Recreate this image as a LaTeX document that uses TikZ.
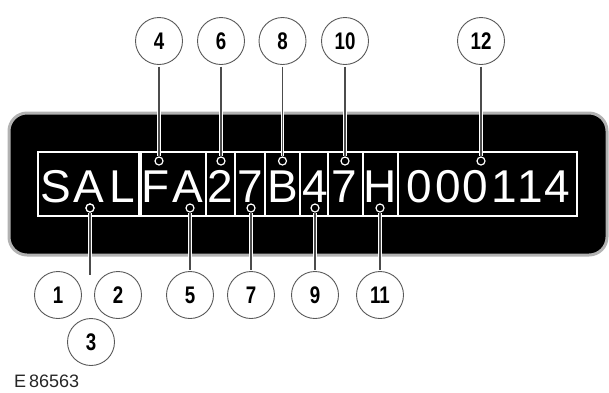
\documentclass[tikz,border=0pt]{standalone}
\usepackage{fontspec}
\setmainfont{Liberation Sans}
\begin{document}
\begin{tikzpicture}[x=1pt,y=-1pt,
  callout/.style={circle,draw=gray!70!black,line width=0.9pt,fill=white,minimum size=47pt,inner sep=0pt,outer sep=2pt,
    font=\fontsize{24}{24}\selectfont\bfseries},
  leader/.style={draw=white,double=gray!60!black,double distance=1.1pt,line width=1.1pt},
  dotmark/.style={circle,draw=white,line width=1.2pt,fill=black,minimum size=8pt,inner sep=0pt},
  cell/.style={draw=white,line width=1.3pt},
  vinch/.style={text=white,anchor=base,inner sep=0pt,font=\fontsize{46}{46}\selectfont},
  plate/.style={fill=black,draw=gray!60,line width=3pt,rounded corners=18pt}]
\useasboundingbox (0,0) rectangle (609,392);
% plate
\draw[plate] (9,113) rectangle (607,255);
% cells
\foreach \a/\b in {38/139,141/206,206/235,235/265,265/300,300/328,328/363,363/398,398/577}
  \draw[cell] (\a,152) rectangle (\b,216);
% characters
\foreach \c/\x [count=\i] in {S/56,A/89,L/122,F/156,A/188,2/220,7/250,B/283,4/315,7/344,H/380,0/419,0/448,0/475,1/504,1/530,4/557}
  \node[vinch] (ch\i) at (\x,202) {\c};
% top callouts
\foreach \n/\x in {4/159,6/221,8/282.5,10/345,12/481}{
  \node[callout] (c\n) at (\x,41) {\scalebox{0.78}[1]{\n}};
  \node[dotmark] (d\n) at (\x,161) {};
  \draw[leader] (c\n) -- (d\n);
}
% bottom callouts
\foreach \n/\x in {5/190,7/251,9/315,11/380}{
  \node[callout] (c\n) at (\x,295) {\scalebox{0.78}[1]{\n}};
  \node[dotmark] (d\n) at (\x,208) {};
  \draw[leader] (d\n) -- (c\n);
}
\node[callout] (c1) at (58,295) {\scalebox{0.78}[1]{1}};
\node[callout] (c2) at (118,295) {\scalebox{0.78}[1]{2}};
\node[callout] (c3) at (91,342) {\scalebox{0.78}[1]{3}};
\node[dotmark] (d1) at (90,208) {};
\coordinate (e1) at (90,275);
\draw[leader] (d1) -- (e1);
\node[dotmark] at (90,208) {};
% figure id
\node[anchor=base west,inner sep=0pt,font=\fontsize{18}{18}\selectfont,text=black!85] (fid) at (14,387) {E\,86563};
\end{tikzpicture}
\end{document}
